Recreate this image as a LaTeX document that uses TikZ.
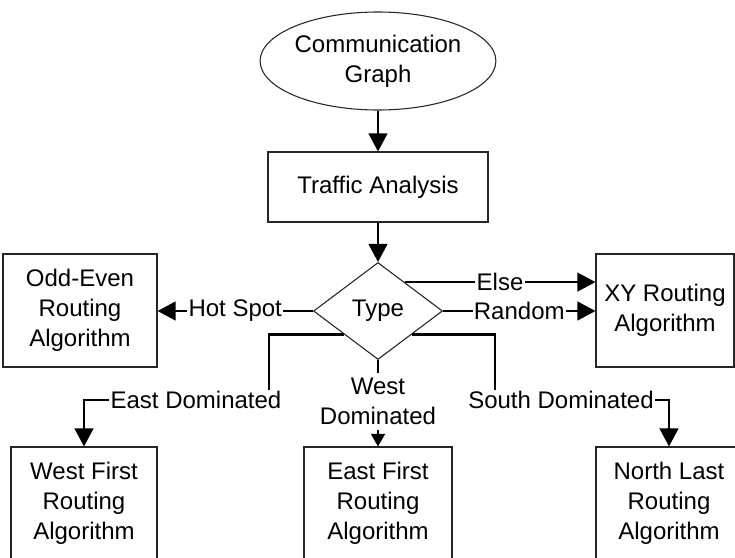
\documentclass[tikz,border=0pt]{standalone}
\usepackage{fontspec}
\setmainfont{Liberation Sans}
\usetikzlibrary{shapes.geometric,arrows.meta,calc}
\begin{document}
\begin{tikzpicture}[x=0.75pt,y=-0.75pt,
  every node/.style={font=\fontsize{18}{22.5}\selectfont, text=black, align=center},
  box/.style={draw=black!85, line width=0.8pt, rectangle, inner sep=0pt},
  conn/.style={draw=black, line width=1.6pt},
  arr/.style={conn, -{Triangle[length=13.5pt,width=14pt]}},
  sarr/.style={conn, -{Triangle[length=9.5pt,width=10.5pt]}},
  lbl/.style={fill=white, inner sep=1pt}]
\clip (0,0) rectangle (735,557);
\fill[white] (0,0) rectangle (735,557);
% nodes
\node[ellipse, draw=black!85, line width=0.8pt, inner sep=0pt, minimum width=174.75pt, minimum height=73.5pt] (comm) at (378,61) {Communication\\Graph};
\node[box, minimum width=165pt, minimum height=52.5pt] (traffic) at (378,187) {Traffic Analysis};
\node[diamond, draw=black!85, line width=0.8pt, inner sep=0pt, minimum width=96.75pt, minimum height=72.75pt] (type) at (378,311) {Type};
\node[box, minimum width=115.5pt, minimum height=84.75pt] (oddeven) at (80,310.5) {Odd-Even\\Routing\\Algorithm};
\node[box, minimum width=103.5pt, minimum height=84.75pt] (xy) at (665,310.5) {XY Routing\\Algorithm};
\node[box, minimum width=109.5pt, minimum height=84.75pt] (wf) at (84,503.5) {West First\\Routing\\Algorithm};
\node[box, minimum width=111pt, minimum height=84.75pt] (ef) at (378,503.5) {East First\\Routing\\Algorithm};
\node[box, minimum width=109.5pt, minimum height=84.75pt] (nl) at (669,503.5) {North Last\\Routing\\Algorithm};
% connectors
\draw[arr] (comm) -- (traffic);
\draw[arr] (traffic) -- (type);
\coordinate (elseS) at ($(type.north)!0.41!(type.east)$);
\draw[arr] (elseS) -- (elseS -| xy.west) node[lbl, midway] (elseL) {Else};
\draw[arr] (type.east) -- (type.east -| xy.west) node[lbl, midway] (randL) {Random};
\draw[arr] (type.west) -- (type.west -| oddeven.east) node[lbl, midway] (hotL) {Hot Spot};
% East dominated
\coordinate (edS) at ($(type.west)!0.48!(type.south)$);
\coordinate (edC) at (269,400);
\draw[arr] (edS) -| (edC) -| (wf.north);
\node[lbl] (edL) at (196,400) {East Dominated};
% South dominated
\coordinate (sdS) at ($(type.east)!0.48!(type.south)$);
\coordinate (sdC) at (495,400);
\draw[arr] (sdS) -| (sdC) -| (nl.north);
\node[lbl] (sdL) at (561,400) {South Dominated};
% West dominated
\draw[sarr] (type.south) -- (ef.north);
\node[fill=white, inner xsep=1pt, inner ysep=3.75pt] (wdL) at (378,401.5) {West\\Dominated};
\end{tikzpicture}
\end{document}
